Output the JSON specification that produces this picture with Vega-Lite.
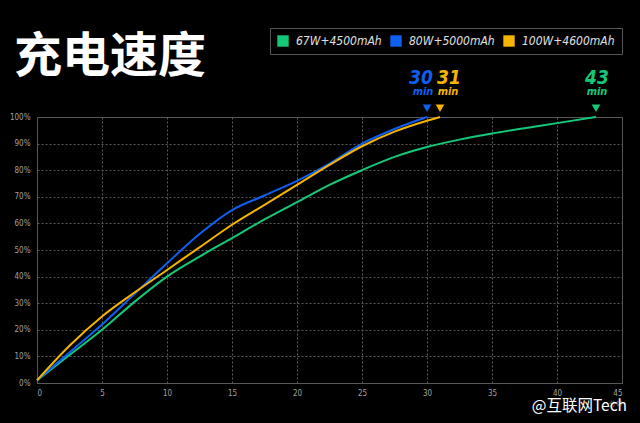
{
  "$schema": "https://vega.github.io/schema/vega-lite/v6.json",
  "width": 585,
  "height": 266,
  "autosize": "none",
  "padding": {"left": 37, "top": 117, "right": 18, "bottom": 40},
  "background": "#000000",
  "title": {
    "text": "充电速度",
    "anchor": "start",
    "frame": "group",
    "font": "Noto Sans CJK SC",
    "fontSize": 48,
    "fontWeight": "bold",
    "color": "#ffffff",
    "offset": -54,
    "dx": -23
  },
  "config": {
    "view": {"stroke": "#555555", "strokeWidth": 1},
    "axis": {
      "grid": true,
      "gridColor": "#5a5a5a",
      "gridDash": [2, 2],
      "gridWidth": 1,
      "domain": false,
      "ticks": false,
      "labelOverlap": false,
      "labelColor": "#a0a0a0",
      "labelFont": "DejaVu Sans Condensed",
      "labelFontSize": 8
    },
    "axisY": {"tickCount": 11}
  },
  "datasets": {
    "curves": [
      {"t": 0, "p": 1, "s": "67W+4500mAh"},
      {"t": 2.5, "p": 10.5, "s": "67W+4500mAh"},
      {"t": 5, "p": 20, "s": "67W+4500mAh"},
      {"t": 7.5, "p": 30.5, "s": "67W+4500mAh"},
      {"t": 10, "p": 40, "s": "67W+4500mAh"},
      {"t": 12.5, "p": 47.5, "s": "67W+4500mAh"},
      {"t": 15, "p": 54.5, "s": "67W+4500mAh"},
      {"t": 17.5, "p": 61.5, "s": "67W+4500mAh"},
      {"t": 20, "p": 68, "s": "67W+4500mAh"},
      {"t": 22.5, "p": 74.5, "s": "67W+4500mAh"},
      {"t": 25, "p": 80, "s": "67W+4500mAh"},
      {"t": 27.5, "p": 85, "s": "67W+4500mAh"},
      {"t": 30, "p": 88.7, "s": "67W+4500mAh"},
      {"t": 32.5, "p": 91.5, "s": "67W+4500mAh"},
      {"t": 35, "p": 93.8, "s": "67W+4500mAh"},
      {"t": 37.5, "p": 95.8, "s": "67W+4500mAh"},
      {"t": 40, "p": 97.7, "s": "67W+4500mAh"},
      {"t": 43, "p": 100, "s": "67W+4500mAh"},
      {"t": 0, "p": 1, "s": "80W+5000mAh"},
      {"t": 2.5, "p": 11.5, "s": "80W+5000mAh"},
      {"t": 5, "p": 22, "s": "80W+5000mAh"},
      {"t": 7.5, "p": 33.5, "s": "80W+5000mAh"},
      {"t": 10, "p": 45, "s": "80W+5000mAh"},
      {"t": 12.5, "p": 56, "s": "80W+5000mAh"},
      {"t": 15, "p": 65, "s": "80W+5000mAh"},
      {"t": 17.5, "p": 70.5, "s": "80W+5000mAh"},
      {"t": 20, "p": 76, "s": "80W+5000mAh"},
      {"t": 22.5, "p": 82.5, "s": "80W+5000mAh"},
      {"t": 25, "p": 90, "s": "80W+5000mAh"},
      {"t": 27.5, "p": 95.5, "s": "80W+5000mAh"},
      {"t": 30, "p": 100, "s": "80W+5000mAh"},
      {"t": 0, "p": 1, "s": "100W+4600mAh"},
      {"t": 2.5, "p": 14, "s": "100W+4600mAh"},
      {"t": 5, "p": 25, "s": "100W+4600mAh"},
      {"t": 7.5, "p": 34, "s": "100W+4600mAh"},
      {"t": 10, "p": 42.5, "s": "100W+4600mAh"},
      {"t": 12.5, "p": 51, "s": "100W+4600mAh"},
      {"t": 15, "p": 59.5, "s": "100W+4600mAh"},
      {"t": 17.5, "p": 67, "s": "100W+4600mAh"},
      {"t": 20, "p": 74.5, "s": "100W+4600mAh"},
      {"t": 22.5, "p": 82, "s": "100W+4600mAh"},
      {"t": 25, "p": 89, "s": "100W+4600mAh"},
      {"t": 27.5, "p": 94.5, "s": "100W+4600mAh"},
      {"t": 30, "p": 98.6, "s": "100W+4600mAh"},
      {"t": 31, "p": 100, "s": "100W+4600mAh"}
    ],
    "ends": [
      {"t": 30, "label": "30", "s": "80W+5000mAh"},
      {"t": 31, "label": "31", "s": "100W+4600mAh"},
      {"t": 43, "label": "43", "s": "67W+4500mAh"}
    ]
  },
  "layer": [
    {
      "data": {"name": "curves"},
      "mark": {"type": "line", "interpolate": "monotone", "strokeWidth": 2},
      "encoding": {
        "x": {
          "field": "t",
          "type": "quantitative",
          "scale": {"domain": [0, 45]},
          "axis": {"values": [0, 5, 10, 15, 20, 25, 30, 35, 40, 45], "labelPadding": 6, "title": "分钟", "titleAnchor": "end", "titleColor": "#777777", "titleFontSize": 7, "titleFontWeight": "normal", "titlePadding": 2}
        },
        "y": {
          "field": "p",
          "type": "quantitative",
          "scale": {"domain": [0, 100]},
          "axis": {"values": [0, 10, 20, 30, 40, 50, 60, 70, 80, 90, 100], "tickCount": 11, "labelExpr": "datum.value + '%'", "labelPadding": 7, "title": null}
        },
        "color": {
          "field": "s",
          "type": "nominal",
          "scale": {
            "domain": ["67W+4500mAh", "80W+5000mAh", "100W+4600mAh"],
            "range": ["#14c878", "#0f5ff0", "#f5b400"]
          },
          "legend": {
            "title": null,
            "orient": "none",
            "direction": "horizontal",
            "legendX": 233,
            "legendY": -89,
            "symbolType": "square",
            "symbolSize": 130,
            "symbolStrokeWidth": 0,
            "labelColor": "#e0e0e0",
            "labelFont": "DejaVu Sans Condensed",
            "labelFontStyle": "italic",
            "labelFontSize": 12,
            "labelOffset": 7,
            "columnPadding": 8,
            "strokeColor": "#555555",
            "padding": 7,
            "fillColor": "#000000"
          }
        },
        "detail": {"field": "s"}
      }
    },
    {
      "data": {"name": "ends"},
      "mark": {"type": "point", "shape": "triangle-down", "filled": true, "size": 75, "opacity": 1},
      "encoding": {
        "x": {"field": "t", "type": "quantitative"},
        "y": {"datum": 103.3},
        "color": {"field": "s", "type": "nominal"}
      }
    },
    {
      "data": {"name": "ends"},
      "transform": [{"filter": "datum.label == '30'"}],
      "mark": {"type": "text", "font": "DejaVu Sans Condensed", "fontStyle": "italic", "fontWeight": "bold", "fontSize": 19, "dx": -6},
      "encoding": {
        "x": {"field": "t", "type": "quantitative"},
        "y": {"datum": 114.8},
        "text": {"field": "label"},
        "color": {"field": "s", "type": "nominal"}
      }
    },
    {
      "data": {"name": "ends"},
      "transform": [{"filter": "datum.label == '30'"}],
      "mark": {"type": "text", "font": "DejaVu Sans Condensed", "fontStyle": "italic", "fontWeight": "bold", "fontSize": 11, "dx": -4},
      "encoding": {
        "x": {"field": "t", "type": "quantitative"},
        "y": {"datum": 109.3},
        "text": {"value": "min"},
        "color": {"field": "s", "type": "nominal"}
      }
    },
    {
      "data": {"name": "ends"},
      "transform": [{"filter": "datum.label == '31'"}],
      "mark": {"type": "text", "font": "DejaVu Sans Condensed", "fontStyle": "italic", "fontWeight": "bold", "fontSize": 19, "dx": 9},
      "encoding": {
        "x": {"field": "t", "type": "quantitative"},
        "y": {"datum": 114.8},
        "text": {"field": "label"},
        "color": {"field": "s", "type": "nominal"}
      }
    },
    {
      "data": {"name": "ends"},
      "transform": [{"filter": "datum.label == '31'"}],
      "mark": {"type": "text", "font": "DejaVu Sans Condensed", "fontStyle": "italic", "fontWeight": "bold", "fontSize": 11, "dx": 8},
      "encoding": {
        "x": {"field": "t", "type": "quantitative"},
        "y": {"datum": 109.3},
        "text": {"value": "min"},
        "color": {"field": "s", "type": "nominal"}
      }
    },
    {
      "data": {"name": "ends"},
      "transform": [{"filter": "datum.label == '43'"}],
      "mark": {"type": "text", "font": "DejaVu Sans Condensed", "fontStyle": "italic", "fontWeight": "bold", "fontSize": 19, "dx": 1},
      "encoding": {
        "x": {"field": "t", "type": "quantitative"},
        "y": {"datum": 114.8},
        "text": {"field": "label"},
        "color": {"field": "s", "type": "nominal"}
      }
    },
    {
      "data": {"name": "ends"},
      "transform": [{"filter": "datum.label == '43'"}],
      "mark": {"type": "text", "font": "DejaVu Sans Condensed", "fontStyle": "italic", "fontWeight": "bold", "fontSize": 11, "dx": 1},
      "encoding": {
        "x": {"field": "t", "type": "quantitative"},
        "y": {"datum": 109.3},
        "text": {"value": "min"},
        "color": {"field": "s", "type": "nominal"}
      }
    },
    {
      "data": {"values": [{"t": 45, "p": -10.5, "mark": "@互联网Tech"}]},
      "mark": {"type": "text", "font": "Noto Sans CJK SC", "fontSize": 15.5, "color": "#ffffff", "align": "right", "baseline": "alphabetic", "dx": 5},
      "encoding": {
        "x": {"field": "t", "type": "quantitative"},
        "y": {"field": "p", "type": "quantitative"},
        "text": {"field": "mark"}
      }
    }
  ]
}
